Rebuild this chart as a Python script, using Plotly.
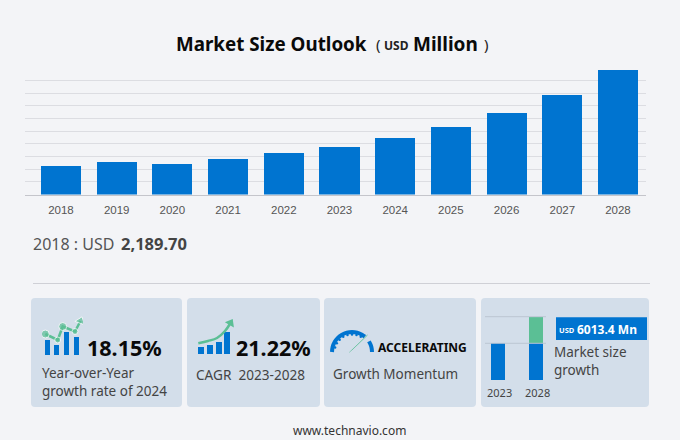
import math
import plotly.graph_objects as go

W = 680
H = 440

years = ["2018", "2019", "2020", "2021", "2022", "2023", "2024", "2025", "2026", "2027", "2028"]
market_size = [2189.7, 2520, 2320, 2703, 3165, 3671, 4316, 5161, 6236, 7665, 9561]

# little pictures in the KPI cards
icon1_bar_x = [47, 56.8, 66.8, 76.5]
icon1_bar_y = [15, 10, 23, 18]
icon1_line_x = [45.3, 57.7, 62.7, 75, 80.5]
icon1_line_y = [21, 15, 28.5, 23.5, 34]

icon2_bar_x = [200.8, 209.5, 218.7, 227.3]
icon2_bar_y = [6.7, 9, 12.3, 22.3]
icon2_line_x = [198.3, 208, 217, 225, 230.5]
icon2_line_y = [10.7, 13, 16, 23, 31]

gauge_left = [180, 165, 150, 135, 120, 105, 90, 75, 60, 50]
gauge_right = [32, 20, 10, 0]
gauge_notches = [165, 150, 135, 120, 105, 90, 75, 60]
needle_x = [-2.8, 15.5, -0.2]
needle_y = [-0.5, 17, 1.8]

mini_years = ["2023", "2028"]
mini_base = [36.7, 36.7]
mini_growth = [0, 26.6]

BLUE = "#0074d0"
GREEN = "#5bbf95"
CARD = "#d3deea"
BG = "#f3f4f7"
GRID = "#dcdde2"
FONT = "Noto Sans"


def xp(px):
    return px / W


def yp(px):
    return 1 - px / H


def card(x0, x1, y0, y1, r=4):
    return dict(
        type="path", xref="paper", yref="paper", layer="below",
        fillcolor=CARD, line=dict(width=0),
        path=f"M {xp(x0+r)} {yp(y0)} L {xp(x1-r)} {yp(y0)} Q {xp(x1)} {yp(y0)} {xp(x1)} {yp(y0+r)} "
             f"L {xp(x1)} {yp(y1-r)} Q {xp(x1)} {yp(y1)} {xp(x1-r)} {yp(y1)} "
             f"L {xp(x0+r)} {yp(y1)} Q {xp(x0)} {yp(y1)} {xp(x0)} {yp(y1-r)} "
             f"L {xp(x0)} {yp(y0+r)} Q {xp(x0)} {yp(y0)} {xp(x0+r)} {yp(y0)} Z",
    )


def label(x, y, text, size, color="#444444", bold=False, anchor="left", family=FONT):
    return dict(
        x=xp(x), y=yp(y), xref="paper", yref="paper", text=f"<b>{text}</b>" if bold else text,
        showarrow=False, xanchor=anchor, yanchor="middle", align="left",
        font=dict(size=size, color=color, family=family), borderpad=0, borderwidth=0,
    )


def hidden(domain, rng):
    return dict(domain=domain, range=rng, visible=False, fixedrange=True)


def on_circle(angles, r):
    return [r * math.cos(math.radians(a)) for a in angles], [r * math.sin(math.radians(a)) for a in angles]


fig = go.Figure()

# main chart
fig.add_trace(go.Bar(x=list(range(len(years))), y=market_size, width=0.72, marker=dict(color=BLUE, line=dict(width=0)), xaxis="x", yaxis="y"))

# year-over-year icon
fig.add_trace(go.Bar(x=icon1_bar_x, y=icon1_bar_y, width=5, marker=dict(color=BLUE, line=dict(width=0)), xaxis="x2", yaxis="y2"))
fig.add_trace(go.Scatter(x=icon1_line_x, y=icon1_line_y, mode="lines+markers", line=dict(color=GREEN, width=2.5),
                         marker=dict(color=GREEN, size=[8, 6, 8, 6, 9], symbol=["circle", "circle", "circle", "circle", "triangle-up"], angle=[0, 0, 0, 0, 20]),
                         xaxis="x2", yaxis="y2"))

# CAGR icon
fig.add_trace(go.Bar(x=icon2_bar_x, y=icon2_bar_y, width=6, marker=dict(color=BLUE, line=dict(width=0)), xaxis="x3", yaxis="y3"))
fig.add_trace(go.Scatter(x=icon2_line_x, y=icon2_line_y, mode="lines", line=dict(color=GREEN, width=2.5, shape="spline"), xaxis="x3", yaxis="y3"))
fig.add_trace(go.Scatter(x=icon2_line_x[-1:], y=icon2_line_y[-1:], mode="markers", marker=dict(color=GREEN, size=9, symbol="triangle-up", angle=30), xaxis="x3", yaxis="y3"))

# gauge icon
for angles in [gauge_left, gauge_right]:
    arc_x, arc_y = on_circle(angles, 20)
    fig.add_trace(go.Scatter(x=arc_x, y=arc_y, mode="lines", line=dict(color=BLUE, width=4, shape="spline"), xaxis="x4", yaxis="y4"))
notch_x, notch_y = on_circle(gauge_notches, 17.5)
fig.add_trace(go.Scatter(x=notch_x, y=notch_y, mode="markers", marker=dict(color=BLUE, size=2.5), xaxis="x4", yaxis="y4"))
fig.add_trace(go.Scatter(x=needle_x, y=needle_y, mode="lines", fill="toself", fillcolor=GREEN, line=dict(color=GREEN, width=0.5), xaxis="x4", yaxis="y4"))

# market size growth mini chart
fig.add_trace(go.Bar(x=[0, 1], y=mini_base, width=0.37, marker=dict(color=BLUE, line=dict(width=0)), xaxis="x5", yaxis="y5"))
fig.add_trace(go.Bar(x=[0, 1], y=mini_growth, width=0.37, marker=dict(color=GREEN, line=dict(width=0)), xaxis="x5", yaxis="y5"))

shapes = [
    card(31, 182, 298, 407),
    card(187, 320, 298, 407),
    card(324, 476, 298, 407),
    card(481, 649, 298, 407),
    # divider under the first-year value
    dict(type="line", xref="paper", yref="paper", x0=xp(33), x1=xp(650), y0=yp(283.5), y1=yp(283.5), line=dict(color="#cfd0d6", width=1), layer="below"),
    # mini chart rules
    dict(type="line", xref="paper", yref="paper", x0=xp(485), x1=xp(546), y0=yp(316.7), y1=yp(316.7), line=dict(color="#bcc6d2", width=1)),
    dict(type="line", xref="paper", yref="paper", x0=xp(485), x1=xp(546), y0=yp(343.3), y1=yp(343.3), line=dict(color="#bcc6d2", width=1)),
    # value box
    dict(type="rect", xref="paper", yref="paper", x0=xp(556), x1=xp(647), y0=yp(317.3), y1=yp(340), fillcolor=BLUE, line=dict(width=0)),
]

annotations = [
    label(175.5, 44, "Market Size Outlook", 18.8, "#0a0a0a", True),
    label(376, 44.5, "(", 15, "#222222"),
    label(383.5, 45, "USD", 12, "#222222", True),
    label(413, 44, "Million", 19, "#0a0a0a", True),
    label(484, 44.5, ")", 15, "#222222"),
    label(33, 244, "2018 : USD", 16, "#555555"),
    label(120.5, 243.5, "2,189.70", 16.5, "#444444", True),
    label(86.5, 347, "18.15%", 21.5, "#0a0a0a", True),
    label(41.5, 382, "Year-over-Year<br>growth rate of 2024", 13.5, "#444444"),
    label(236, 347, "21.22%", 21.5, "#0a0a0a", True),
    label(196, 374, "CAGR  2023-2028", 13.6, "#444444"),
    label(377.5, 347, "ACCELERATING", 12, "#0a0a0a", True),
    label(333, 374, "Growth Momentum", 13.5, "#444444"),
    label(558.5, 330, "USD", 7.5, "#ffffff", True),
    label(577, 329, "6013.4 Mn", 12, "#ffffff", True),
    label(554, 361, "Market size<br>growth", 13.5, "#444444"),
    label(499.5, 392, mini_years[0], 11, "#444444", anchor="center"),
    label(537, 392, mini_years[1], 11, "#444444", anchor="center"),
    label(350, 430, "www.technavio.com", 12, "#333333", anchor="center"),
]

fig.update_layout(
    width=W, height=H,
    margin=dict(l=0, r=0, t=0, b=0),
    autosize=False,
    paper_bgcolor=BG, plot_bgcolor=BG,
    showlegend=False,
    barmode="stack",
    shapes=shapes,
    annotations=annotations,
    xaxis=dict(
        domain=[xp(25), xp(646)], range=[-0.646, 10.503], tickmode="array",
        tickvals=list(range(len(years))), ticktext=years, showgrid=False, zeroline=False,
        showline=True, linecolor="#c4c5cb", linewidth=1, ticks="", ticklabelstandoff=5,
        tickfont=dict(family="Liberation Sans", size=11.5, color="#555555"), fixedrange=True,
    ),
    yaxis=dict(
        domain=[yp(194.5), yp(67.7)], range=[0, 9750], dtick=975, showgrid=True,
        gridcolor=GRID, gridwidth=1, zeroline=False, showticklabels=False, ticks="", fixedrange=True,
    ),
    xaxis2=hidden([xp(42), xp(83)], [42, 83]),
    yaxis2=hidden([yp(355), yp(316)], [0, 39]),
    xaxis3=hidden([xp(196), xp(234)], [196, 234]),
    yaxis3=hidden([yp(354), yp(317)], [0, 37]),
    xaxis4=hidden([xp(326), xp(378)], [-26, 26]),
    yaxis4=hidden([yp(358), yp(326)], [-6, 26]),
    xaxis5=hidden([xp(481), xp(548)], [-0.46, 1.322]),
    yaxis5=hidden([yp(380), yp(316.7)], [0, 63.3]),
)

# page margin would push the figure 8px down and right
fig.write_html("out.html", config={"displayModeBar": False},
               post_script="document.body.style.margin='0';document.body.style.overflow='hidden';")
